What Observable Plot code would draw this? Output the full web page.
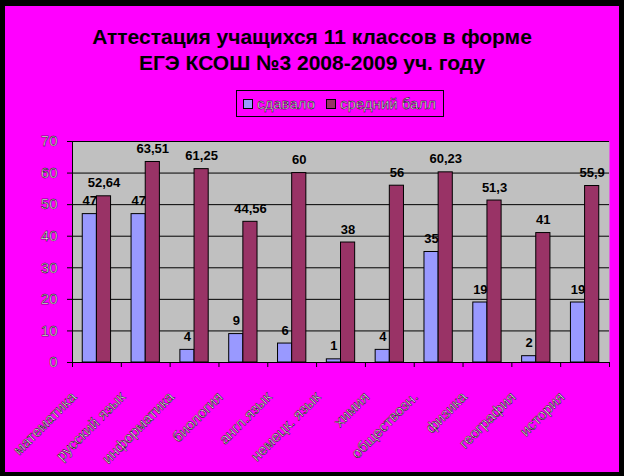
<!DOCTYPE html>
<html><head><meta charset="utf-8">
<script src="https://cdn.jsdelivr.net/npm/d3@7"></script>
<script src="https://cdn.jsdelivr.net/npm/@observablehq/plot@0.6"></script>
<style>
body{margin:0;background:#000;width:624px;height:476px;overflow:hidden;font-family:Arial,"Liberation Sans",sans-serif}
#panel{position:absolute;left:5px;top:6px;width:614px;height:466px;background:#ff00ff}
#title{position:absolute;left:0;top:18px;width:614px;text-align:center;font-weight:bold;font-size:21px;line-height:26px;color:#000}
#legend{position:absolute;left:231px;top:84px;width:206px;height:25px;border:1px solid #000;display:flex;align-items:center;font-size:15px;box-sizing:content-box}
.sw{display:inline-block;width:8px;height:8px;border:1px solid #000;margin:0 4px 0 6px}
.sw2{margin-left:11px}
.lt{color:#f2f2f2;-webkit-text-stroke:0.45px #000}
#chart{position:absolute;left:0;top:119px}
.ch g[aria-label="y-axis tick label"] text,.ch g[aria-label="x-axis tick label"] text{fill:#f2f2f2;stroke:#000;stroke-width:0.45px;font-family:Arial,"Liberation Sans",sans-serif}
</style></head>
<body>
<div id="panel">
  <div id="title">Аттестация учащихся 11 классов в форме<br>ЕГЭ КСОШ №3 2008-2009 уч. году</div>
  <div id="legend"></div>
  <div id="chart"></div>
</div>
<script>
const categories = ["математика","русский язык","информатика","биология","англ.язык","немецк. язык","химия","обществозн.","физика","география","история"];
const taken = [47,47,4,9,6,1,4,35,19,2,19];
const avgScore = [52.64,63.51,61.25,44.56,60,38,56,60.23,51.3,41,55.9];
const seriesNames = ["сдавало","средний балл"];
const seriesColors = ["#9999ff","#993366"];
const yTicks = [0,10,20,30,40,50,60,70];

const rows = categories.map((c,i)=>({category:c, taken:taken[i], avg:avgScore[i]}));
const fmt = v => String(v).replace(".", ",");

const legend = document.getElementById("legend");
seriesNames.forEach((n,i)=>{
  const sw = document.createElement("span"); sw.className = i ? "sw sw2" : "sw"; sw.style.background=seriesColors[i];
  const t = document.createElement("span"); t.className="lt"; t.textContent=n;
  legend.appendChild(sw); legend.appendChild(t);
});

const W = 614, mL = 67, mR = 10;
const step = (W - mL - mR) / categories.length;
const pIn = 0.42;
const half = step * (1 - pIn) / 2;

const chart = Plot.plot({
  width: W, height: 347,
  marginLeft: mL, marginRight: mR, marginTop: 16, marginBottom: 110,
  className: "ch",
  style: {background:"transparent", fontFamily:"Arial, 'Liberation Sans', sans-serif", fontSize:"15px", overflow:"visible", color:"#000"},
  x: {domain: categories, paddingInner: pIn, paddingOuter: pIn/2, round: false, label: null},
  y: {domain: [0,70], label: null},
  marks: [
    Plot.frame({fill:"#c0c0c0", stroke:null}),
    Plot.gridY(yTicks, {stroke:"#000", strokeOpacity:1}),
    Plot.barY(rows, {x:"category", y:"taken", fill:seriesColors[0], stroke:"#000", insetRight: half}),
    Plot.barY(rows, {x:"category", y:"avg", fill:seriesColors[1], stroke:"#000", insetLeft: half}),
    Plot.ruleY([0], {stroke:"#000"}),
    Plot.frame({anchor:"left", stroke:"#000"}),
    Plot.ruleX(categories, {x:d=>d, y1:0, y2:0, insetBottom:-5, dx:-step/2, stroke:"#000"}),
    Plot.ruleX(categories.slice(-1), {x:d=>d, y1:0, y2:0, insetBottom:-5, dx:step/2, stroke:"#000"}),
    Plot.axisY(yTicks, {tickSize:5, tickPadding:10, stroke:"#000", label:null}),
    Plot.axisX({tickSize:0, tickRotate:-45, tickPadding:32, dx:-23, label:null}),
    Plot.text(rows, {x:"category", y:"taken", text:d=>fmt(d.taken), dx:-half/2, dy:-9, lineAnchor:"bottom", fontWeight:"bold", fontSize:13, fill:"#000"}),
    Plot.text(rows, {x:"category", y:"avg", text:d=>fmt(d.avg), dx:half/2, dy:-9, lineAnchor:"bottom", fontWeight:"bold", fontSize:13, fill:"#000"})
  ]
});
document.getElementById("chart").appendChild(chart);
</script>
</body></html>
